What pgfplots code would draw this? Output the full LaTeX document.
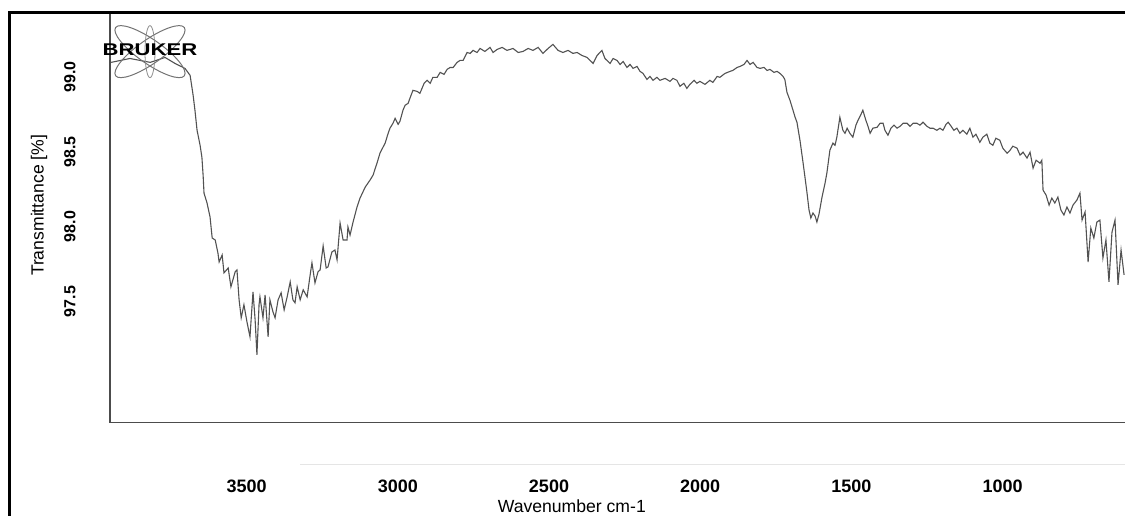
\documentclass[border=0pt]{standalone}
\usepackage{fontspec}
\setmainfont{Liberation Sans}
\usepackage{pgfplots}
\pgfplotsset{compat=1.18}

\begin{document}
\begin{tikzpicture}
\begin{axis}[
    scale only axis,
    width=507.5pt, height=205pt,
    x dir=reverse,
    xmin=595, xmax=3952,
    ymin=96.69, ymax=99.43,
    axis x line*=bottom, axis y line*=left,
    axis line style={black!70, line width=0.8pt, -},
    xtick={1000,1500,2000,2500,3000,3500},
    xticklabels={1000,1500,2000,2500,3000,3500},
    ytick={97.5,98.0,98.5,99.0},
    yticklabels={97.5,98.0,98.5,99.0},
    /pgf/number format/assume math mode=true,
    tick style={draw=none},
    major tick length=0pt,
    xticklabel style={font=\bfseries\fontsize{9}{10}\selectfont, anchor=center, yshift=-32pt},
    yticklabel style={font=\bfseries\fontsize{8}{9}\selectfont, xshift=-20pt, rotate=90, anchor=center},
    xlabel={Wavenumber cm-1},
    ylabel={Transmittance [\%]},
    xlabel style={font=\fontsize{8.8}{10}\selectfont, at={([yshift=-42pt]axis description cs:0.455,0)}, anchor=center},
    ylabel style={font=\fontsize{8.8}{9}\selectfont, at={([xshift=-35.5pt]axis description cs:0,0.53)}, anchor=center},
    clip=false,
]
% IR spectrum
\addplot[black!68, line width=0.55pt] table {
wn T
3948 99.098
3886 99.124
3819 99.098
3770 99.131
3737 99.091
3704 99.058
3687 99.011
3677 98.878
3671 98.778
3664 98.644
3654 98.544
3648 98.464
3644 98.344
3641 98.224
3631 98.158
3621 98.064
3614 97.924
3604 97.911
3595 97.824
3591 97.764
3581 97.811
3575 97.691
3561 97.724
3552 97.598
3538 97.698
3532 97.711
3525 97.511
3518 97.391
3509 97.478
3499 97.364
3489 97.264
3479 97.564
3472 97.378
3466 97.144
3459 97.478
3456 97.531
3446 97.391
3439 97.544
3429 97.264
3423 97.511
3413 97.431
3406 97.391
3396 97.511
3386 97.558
3376 97.444
3366 97.531
3356 97.631
3347 97.511
3340 97.491
3333 97.598
3323 97.511
3313 97.578
3300 97.531
3290 97.678
3284 97.758
3274 97.624
3264 97.698
3257 97.711
3247 97.871
3237 97.724
3231 97.731
3218 97.831
3208 97.844
3201 97.778
3191 98.024
3181 97.911
3168 97.911
3165 97.998
3158 97.944
3148 98.031
3135 98.131
3125 98.191
3108 98.264
3092 98.311
3082 98.344
3069 98.424
3059 98.491
3049 98.531
3042 98.558
3032 98.624
3026 98.658
3016 98.691
3009 98.724
2999 98.684
2993 98.704
2983 98.778
2976 98.811
2966 98.824
2960 98.858
2950 98.911
2936 98.904
2927 98.891
2913 98.958
2903 98.978
2893 98.958
2884 98.998
2870 98.998
2860 99.031
2847 99.018
2837 99.051
2827 99.064
2817 99.064
2804 99.098
2794 99.111
2784 99.111
2771 99.164
2761 99.158
2751 99.178
2738 99.164
2728 99.191
2712 99.171
2695 99.198
2685 99.164
2672 99.184
2655 99.198
2639 99.178
2619 99.191
2602 99.164
2586 99.171
2569 99.191
2553 99.178
2536 99.198
2520 99.158
2503 99.191
2487 99.218
2470 99.178
2454 99.164
2437 99.178
2421 99.158
2407 99.164
2391 99.144
2374 99.131
2364 99.111
2354 99.091
2341 99.144
2325 99.178
2315 99.124
2298 99.091
2288 99.124
2275 99.111
2265 99.084
2255 99.104
2242 99.064
2232 99.084
2222 99.058
2209 99.071
2199 99.038
2189 99.024
2176 98.984
2166 99.004
2156 98.978
2143 98.998
2133 98.978
2116 98.991
2100 98.971
2090 98.991
2077 98.978
2067 98.938
2054 98.958
2044 98.924
2034 98.951
2020 98.978
2011 98.958
2001 98.971
1984 98.951
1968 98.978
1958 98.964
1944 99.004
1935 98.998
1918 99.024
1901 99.038
1892 99.044
1878 99.064
1868 99.071
1855 99.084
1845 99.111
1835 99.084
1825 99.098
1812 99.064
1802 99.058
1789 99.064
1779 99.044
1769 99.051
1756 99.031
1746 99.038
1736 99.024
1726 99.004
1720 98.984
1713 98.898
1703 98.844
1693 98.778
1686 98.731
1680 98.698
1670 98.578
1660 98.431
1653 98.324
1647 98.231
1640 98.111
1634 98.058
1627 98.091
1620 98.071
1614 98.031
1607 98.084
1597 98.198
1587 98.291
1581 98.358
1571 98.511
1561 98.558
1554 98.544
1548 98.598
1538 98.731
1528 98.644
1521 98.624
1514 98.658
1505 98.624
1495 98.598
1485 98.678
1478 98.711
1468 98.751
1462 98.778
1452 98.711
1445 98.671
1438 98.624
1429 98.658
1415 98.664
1405 98.691
1395 98.691
1389 98.644
1379 98.611
1369 98.658
1359 98.678
1349 98.658
1339 98.671
1329 98.691
1316 98.691
1306 98.671
1296 98.691
1283 98.691
1273 98.678
1263 98.698
1250 98.671
1240 98.658
1230 98.658
1217 98.644
1207 98.658
1197 98.644
1187 98.684
1180 98.698
1170 98.671
1161 98.644
1151 98.658
1141 98.624
1131 98.644
1118 98.618
1108 98.658
1098 98.598
1088 98.618
1075 98.564
1065 98.598
1052 98.618
1042 98.558
1032 98.544
1022 98.591
1009 98.578
999 98.524
985 98.491
975 98.511
966 98.538
952 98.524
942 98.478
932 98.498
919 98.458
909 98.498
899 98.391
889 98.444
876 98.424
870 98.444
866 98.244
856 98.211
846 98.144
837 98.191
827 98.158
817 98.198
807 98.111
797 98.078
787 98.131
777 98.091
767 98.144
754 98.178
744 98.224
737 98.044
727 98.098
717 97.764
708 97.991
698 97.924
688 98.031
678 98.044
668 97.791
658 97.911
648 97.631
638 97.964
628 98.044
618 97.611
608 97.844
598 97.678
};
\coordinate (O) at (rel axis cs:0,0);
\coordinate (T) at (rel axis cs:1,1);
\coordinate (TL) at (rel axis cs:0,1);
\coordinate (L) at (rel axis cs:0.0394,0.905);
\end{axis}

% Bruker logo
\draw[black!55, line width=0.5pt, rotate around={35:(L)}] (L) ellipse [x radius=21pt, y radius=6pt];
\draw[black!55, line width=0.5pt, rotate around={-35:(L)}] (L) ellipse [x radius=21pt, y radius=6pt];
\draw[black!45, line width=0.4pt] (L) ellipse [x radius=2.5pt, y radius=13pt];
\node[font=\bfseries\fontsize{8.5}{9}\selectfont, xscale=1.3, inner sep=0pt] at ([yshift=1pt]L) {BRUKER};

% faint scan line under the axis
\draw[black!10, line width=0.8pt] ([xshift=95pt,yshift=-21pt]O) -- ([yshift=-21pt]O -| T);

\pgfresetboundingbox
\path[use as bounding box] ([xshift=-55pt,yshift=-46.5pt]O) rectangle ([yshift=6.35pt]T);
% outer frame of the scan
\draw[line width=1.5pt] ([xshift=-50pt,yshift=-60pt]O) -- ([xshift=-50pt]TL) -- ([xshift=5pt]T);
\end{tikzpicture}
\end{document}
